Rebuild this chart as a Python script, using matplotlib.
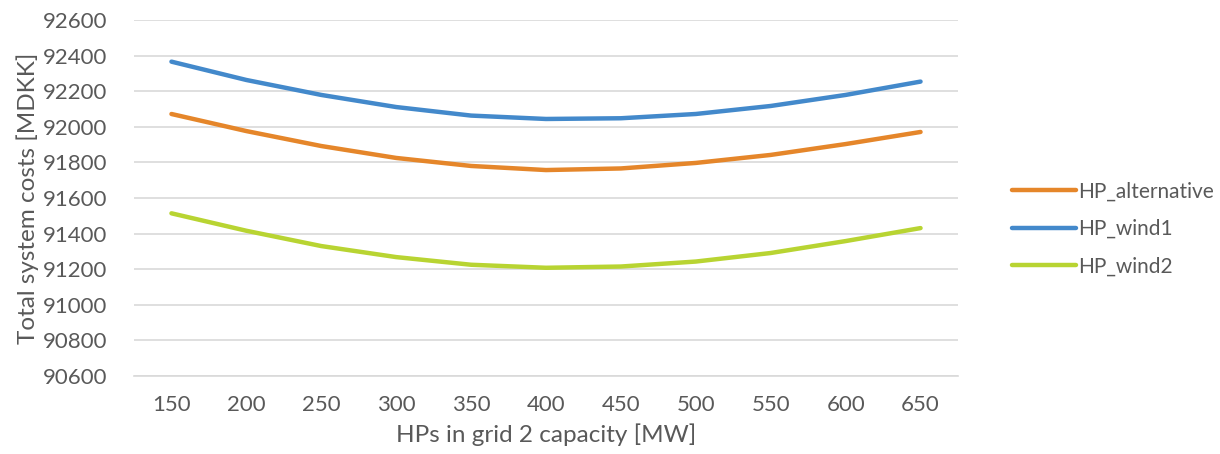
import numpy as np
from matplotlib import pyplot as plt

capacity = [150, 200, 250, 300, 350, 400, 450, 500, 550, 600, 650]
hp_alternative = [92072, 91976, 91892, 91825, 91780, 91757, 91766, 91797, 91842, 91903, 91971]
hp_wind1 = [92366, 92263, 92179, 92111, 92063, 92044, 92048, 92072, 92117, 92179, 92254]
hp_wind2 = [91514, 91416, 91330, 91268, 91225, 91208, 91215, 91243, 91291, 91358, 91431]

TEXT = "#595959"
plt.rcParams['font.family'] = ['Lato', 'DejaVu Sans']

fig = plt.figure(figsize=(12.2, 4.54), dpi=100)
ax = fig.add_axes([134 / 1220, 1 - 376 / 454, (958 - 134) / 1220, (376 - 20) / 454])

xpos = np.arange(len(capacity))
series = [("HP_alternative", hp_alternative, "#E5862A"),
          ("HP_wind1", hp_wind1, "#4389CB"),
          ("HP_wind2", hp_wind2, "#B8D432")]
for name, vals, col in series:
    ax.plot(xpos, vals, color=col, lw=3.2, solid_capstyle='round', solid_joinstyle='round', label=name)

ax.set_xlim(-0.5, len(capacity) - 0.5)
ax.set_ylim(90600, 92600)
ax.set_yticks(np.arange(90600, 92601, 200))
ax.set_xticks(xpos)
ax.set_xticklabels([str(c) for c in capacity])
ax.grid(axis='y', color="#D9D9D9", lw=1.2)
ax.set_axisbelow(True)
for s in ['top', 'right', 'left']:
    ax.spines[s].set_visible(False)
ax.spines['bottom'].set_color("#D9D9D9")
ax.spines['bottom'].set_linewidth(1.2)
ax.tick_params(axis='both', length=0, colors=TEXT, labelsize=16)
ax.tick_params(axis='y', pad=19)
ax.tick_params(axis='x', pad=14)

ax.set_xlabel("HPs in grid 2 capacity [MW]", color=TEXT, fontsize=17.5, labelpad=6)
ax.set_ylabel("Total system costs [MDKK]", color=TEXT, fontsize=17.5, labelpad=3)

leg = fig.legend(loc='center left', bbox_to_anchor=(993 / 1220, 1 - 229 / 454), frameon=False,
                 fontsize=15, handlelength=3.1, handletextpad=0.1, labelspacing=0.85)
for t in leg.get_texts():
    t.set_color(TEXT)

fig.savefig("out.png", dpi=100)
